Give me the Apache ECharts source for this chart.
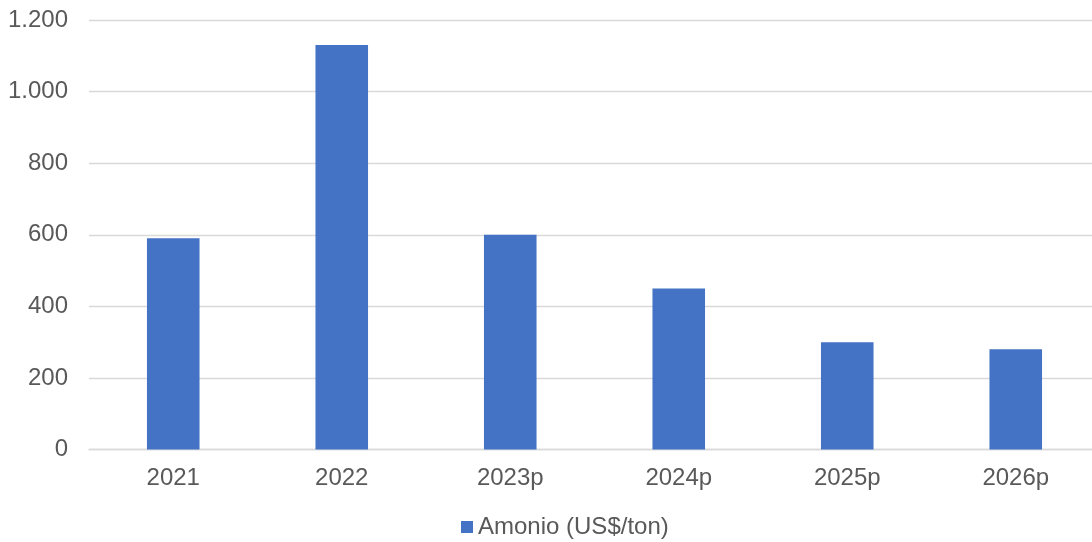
<!DOCTYPE html>
<html>
<head>
<meta charset="utf-8">
<script src="https://cdn.jsdelivr.net/npm/echarts@6/dist/echarts.min.js"></script>
<style>
html,body{margin:0;padding:0;background:#fff;}
#c{width:1092px;height:542px;}
</style>
</head>
<body>
<div id="c"></div>
<script>
const categories = ['2021', '2022', '2023p', '2024p', '2025p', '2026p'];
const amonio = [590, 1130, 600, 450, 300, 280];
const seriesName = 'Amonio (US$/ton)';

const chart = echarts.init(document.getElementById('c'), null, {renderer: 'canvas'});
const font = '"Liberation Sans", Arial, sans-serif';
chart.setOption({
  animation: false,
  textStyle: {fontFamily: font},
  grid: {left: 89, width: 1011, top: 20, height: 429.5, outerBoundsMode: 'none', containLabel: false},
  legend: {
    data: [seriesName],
    top: 515,
    left: 461,
    icon: 'rect',
    itemWidth: 12,
    itemHeight: 12,
    padding: 0,
    textStyle: {color: '#595959', fontSize: 24, fontFamily: font}
  },
  xAxis: {
    type: 'category',
    data: categories,
    axisLine: {lineStyle: {color: '#D9D9D9', width: 1.3}},
    axisTick: {show: false},
    axisLabel: {color: '#595959', fontSize: 24, fontFamily: font, margin: 17}
  },
  yAxis: {
    type: 'value',
    min: 0,
    max: 1200,
    interval: 200,
    axisLine: {show: false},
    axisTick: {show: false},
    splitLine: {lineStyle: {color: '#D9D9D9', width: 1.3}},
    axisLabel: {
      color: '#595959', fontSize: 24, fontFamily: font, margin: 21,
      formatter: v => String(v).replace(/\B(?=(\d{3})+(?!\d))/g, '.')
    }
  },
  series: [{
    name: seriesName,
    type: 'bar',
    data: amonio,
    barWidth: '31.2%',
    itemStyle: {color: '#4472C4'}
  }]
});
</script>
</body>
</html>
